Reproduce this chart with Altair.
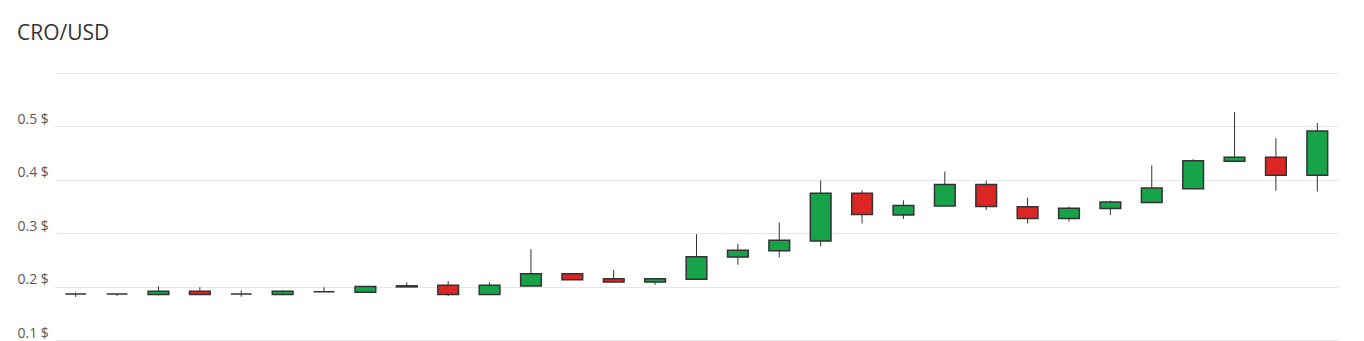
import altair as alt
import pandas as pd

idx = list(range(1, 32))
opens = [0.186, 0.186, 0.185, 0.1912, 0.186, 0.185, 0.1905, 0.1894, 0.1995, 0.2024,
         0.185, 0.201, 0.224, 0.2147, 0.2086, 0.2136, 0.2552, 0.267, 0.2856, 0.3746,
         0.3341, 0.351, 0.391, 0.3497, 0.3274, 0.3461, 0.3573, 0.3834, 0.4349, 0.4424, 0.4087]
closes = [0.186, 0.186, 0.1912, 0.185, 0.186, 0.1912, 0.1905, 0.2, 0.2015, 0.185,
          0.2024, 0.224, 0.2129, 0.2086, 0.2147, 0.2558, 0.2683, 0.287, 0.3746, 0.3349,
          0.3517, 0.3914, 0.350, 0.3274, 0.3466, 0.3584, 0.3845, 0.4356, 0.4424, 0.4087, 0.4915]
highs = [0.189, 0.186, 0.2005, 0.1987, 0.193, 0.193, 0.1987, 0.2, 0.208, 0.2104,
         0.208, 0.270, 0.224, 0.231, 0.2147, 0.298, 0.280, 0.320, 0.3989, 0.3802,
         0.3616, 0.4155, 0.3983, 0.3666, 0.3498, 0.361, 0.427, 0.4386, 0.527, 0.478, 0.5065]
lows = [0.1806, 0.1825, 0.1834, 0.185, 0.1812, 0.185, 0.1905, 0.1894, 0.1995, 0.1825,
        0.185, 0.201, 0.2129, 0.2086, 0.2035, 0.2136, 0.2409, 0.2547, 0.2757, 0.318,
        0.3267, 0.351, 0.3435, 0.318, 0.3218, 0.334, 0.3573, 0.3834, 0.4349, 0.3796, 0.378]

df = pd.DataFrame({"i": idx, "open": opens, "close": closes, "high": highs, "low": lows})
df["dir"] = ["up" if c >= o else "down" for o, c in zip(opens, closes)]

x = alt.X("i:O", axis=None, scale=alt.Scale(paddingInner=0.5, paddingOuter=0.25))
yscale = alt.Scale(domain=[0.1, 0.6], nice=False, zero=False)

base = alt.Chart(df)

wick = base.mark_rule(color="#333333", strokeWidth=1).encode(
    x=x,
    y=alt.Y("low:Q", scale=yscale,
            axis=alt.Axis(values=[0.1, 0.2, 0.3, 0.4, 0.5, 0.6], title=None,
                          labelExpr="datum.value > 0.55 ? '' : format(datum.value, '.1f') + ' $'",
                          labelAlign="left", labelPadding=38, tickSize=0, ticks=False,
                          domain=False, labelBaseline="alphabetic", labelOffset=-3,
                          labelFont="Open Sans", labelFontSize=14, labelColor="#5a5a5a",
                          gridColor="#e6e6e6", gridWidth=1)),
    y2="high:Q",
)

body = base.mark_bar(stroke="#333333", strokeWidth=1.5).encode(
    x=x,
    y=alt.Y("open:Q", scale=yscale),
    y2="close:Q",
    color=alt.Color("dir:N", scale=alt.Scale(domain=["up", "down"], range=["#17a34a", "#dc2626"]),
                    legend=None),
)

chart = alt.layer(wick, body).properties(
    width=1283, height=267,
    title=alt.TitleParams("CRO/USD", anchor="start", font="Open Sans", fontSize=21,
                          fontWeight="normal", color="#333333", offset=29),
    padding={"left": 55, "top": 73, "right": 26, "bottom": 1},
    autosize=alt.AutoSizeParams(type="none"),
).configure_view(stroke=None)

chart.save("out.html", embed_options={"renderer": "svg", "actions": False})
